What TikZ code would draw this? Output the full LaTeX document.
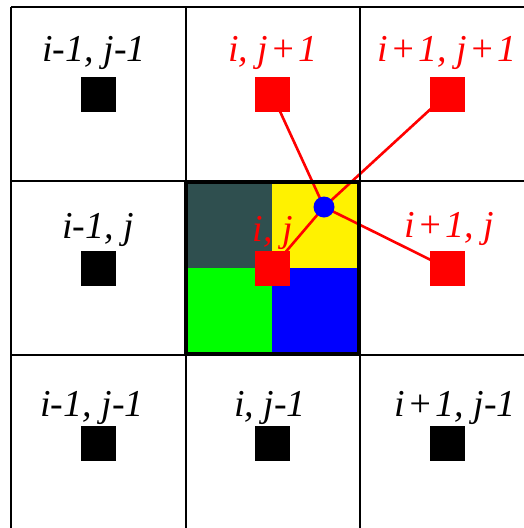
\documentclass[tikz,border=0pt]{standalone}
\usepackage{fontspec}
\setmainfont{Liberation Serif}
\pgfdeclarelayer{quads}
\pgfdeclarelayer{links}
\pgfsetlayers{quads,links,main}
\definecolor{slate}{RGB}{47,79,79}
\newcommand{\pl}{\hspace{2.5pt}+\hspace{2.5pt}}
\tikzset{
  sqbox/.style={minimum size=35pt, inner sep=0pt, draw=none, fill=#1},
  lbl/.style={anchor=base, inner sep=0pt, text=#1, font=\fontsize{38}{40}\selectfont\itshape},
  gridline/.style={line width=2pt, black},
  link/.style={red, line width=2.6pt},
}
\begin{document}
\begin{tikzpicture}[x=1pt,y=-1pt]
\useasboundingbox (0,0) rectangle (524,528);
% quadrants of central cell
\begin{pgfonlayer}{quads}
  \fill[white] (0,0) rectangle (524,528);
  \fill[slate]   (186,182) rectangle (272,268);
  \fill[yellow]  (272,182) rectangle (359,268);
  \fill[green]   (186,268) rectangle (272,354);
  \fill[blue]    (272,268) rectangle (359,354);
\end{pgfonlayer}
% grid
\draw[gridline] (11,7) -- (524,7);
\draw[gridline] (11,181) -- (524,181);
\draw[gridline] (11,355) -- (524,355);
\draw[gridline] (11,7) -- (11,528);
\draw[gridline] (185.5,7) -- (185.5,528);
\draw[gridline] (359.5,7) -- (359.5,528);
\draw[line width=4pt, black] (186,182) rectangle (359,354);
% squares
\node[sqbox=black] (a) at (98,94) {};
\node[sqbox=red]   (b) at (272,94) {};
\node[sqbox=red]   (c) at (447,94) {};
\node[sqbox=black] (d) at (98,268) {};
\node[sqbox=red]   (e) at (272,268) {};
\node[sqbox=red]   (f) at (447,268) {};
\node[sqbox=black] (g) at (98,443) {};
\node[sqbox=black] (h) at (272,443) {};
\node[sqbox=black] (k) at (447,443) {};
% labels
\node[lbl=black] (la) at (94,61) {i-1, j-1};
\node[lbl=red]   (lb) at (273,61) {i, j\pl1};
\node[lbl=red]   (lc) at (447,61) {i\pl1, j\pl1};
\node[lbl=black] (ld) at (98,238) {i-1, j};
\node[lbl=red]   (le) at (273,241) {i, j};
\node[lbl=red]   (lf) at (449,237) {i\pl1, j};
\node[lbl=black] (lg) at (92,416) {i-1, j-1};
\node[lbl=black] (lh) at (270,416) {i, j-1};
\node[lbl=black] (lk) at (455,416) {i\pl1, j-1};
% blue dot
\node[circle, fill=blue, minimum size=21pt, inner sep=0pt] (dot) at (324,207) {};
\begin{pgfonlayer}{links}
  \draw[link] (dot.center) -- (b.center);
  \draw[link] (dot.center) -- (c.center);
  \draw[link] (dot.center) -- (e.center);
  \draw[link] (dot.center) -- (f.center);
\end{pgfonlayer}
\end{tikzpicture}
\end{document}
